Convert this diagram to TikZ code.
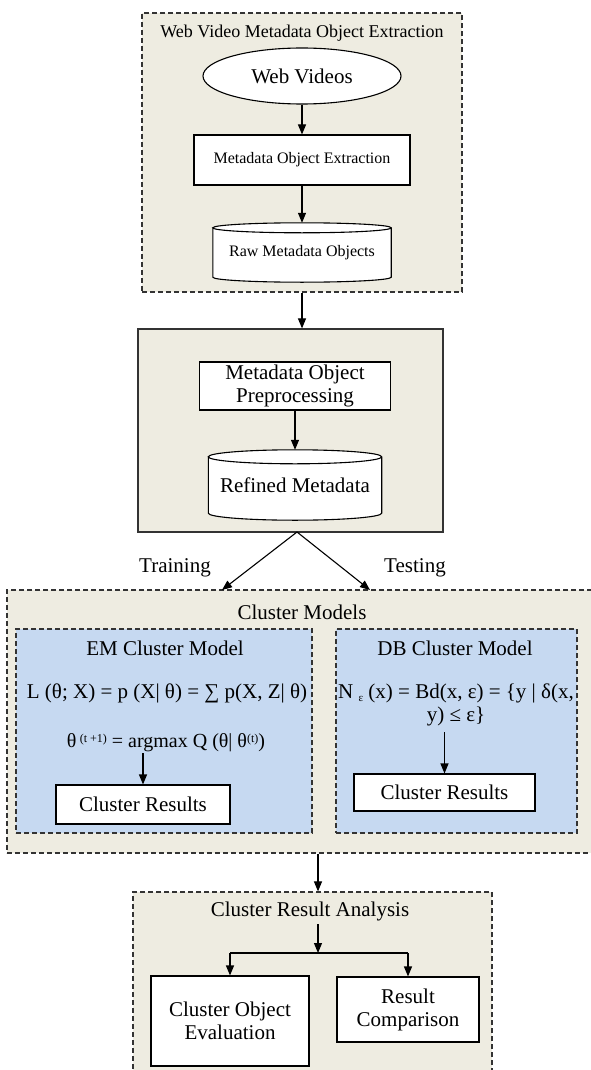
\documentclass[tikz,border=0pt]{standalone}
\usepackage{fontspec}
\setmainfont{Liberation Serif}
\usetikzlibrary{arrows.meta,shapes.geometric,calc}
\definecolor{beige}{HTML}{EEECE1}
\definecolor{lblue}{HTML}{C6D9F1}
\definecolor{edge}{HTML}{333333}
\pgfdeclarelayer{back}
\pgfdeclarelayer{mid}
\pgfsetlayers{back,mid,main}
\tikzset{
  fsa/.style={font=\fontsize{21}{23}\selectfont},
  fsb/.style={font=\fontsize{18}{20}\selectfont},
  fsc/.style={font=\fontsize{16}{18}\selectfont},
  fsd/.style={font=\fontsize{20}{22}\selectfont},
  container/.style={draw=edge, line width=1.2pt, dash pattern=on 5pt off 3pt, fill=beige, inner sep=0pt},
  solidbox/.style={draw=edge, line width=1.2pt, fill=beige, inner sep=0pt},
  whitebox/.style={draw=black, line width=1.1pt, fill=white, inner sep=0pt, align=center},
  cylnode/.style={inner sep=0pt, align=center},
  arr/.style={line width=1.1pt, -{Triangle[length=10pt,width=8pt]}},
  plain/.style={line width=1.1pt},
}
\newcommand\cylpath[2]{%
  \draw[draw=black, line width=1.1pt, fill=white] let \p1=(#1.north west), \p2=(#1.south east), \n1={(\x2-\x1)/2} in
   (\x1,\y1) -- (\x1,\y2) arc[start angle=180,end angle=360,x radius=\n1,y radius=#2]
   -- (\x2,\y1) arc[start angle=0,end angle=180,x radius=\n1,y radius=#2]
   arc[start angle=180,end angle=360,x radius=\n1,y radius=#2];}
\begin{document}
\begin{tikzpicture}[x=1pt,y=-1pt]
\useasboundingbox (0,0) rectangle (591,1070);
\clip (0,0) rectangle (591,1070);

% containers
\begin{pgfonlayer}{back}
\node[container, minimum width=320, minimum height=279] (top) at (302,152.5) {};
\node[solidbox, minimum width=305, minimum height=203] (sol) at (290.5,430.5) {};
\node[container, minimum width=593, minimum height=263] (cm) at (303.5,721.5) {};
\node[container, fill=lblue, minimum width=296, minimum height=204] (em) at (164,731) {};
\node[container, fill=lblue, minimum width=241, minimum height=204] (db) at (456.5,731) {};
\node[container, minimum width=359, minimum height=190] (bot) at (312.5,987) {};
\end{pgfonlayer}

% top group
\node[fsb] (t1) at (302,33) {Web Video Metadata Object Extraction};
\node[draw=black, ellipse, fill=white, line width=1.1pt, minimum width=198, minimum height=56, inner sep=0pt, fsa] (ww) at (302,76) {Web Videos};
\node[whitebox, fsc, minimum width=216, minimum height=50] (moe) at (302,160) {Metadata Object Extraction};
\node[cylnode, fsc, minimum width=178, minimum height=49] (rmo) at (302,252.5) {Raw Metadata Objects};
\begin{pgfonlayer}{mid}\cylpath{rmo}{5pt}\end{pgfonlayer}
\draw[arr] (ww.south) -- (moe.north);
\draw[arr] (moe.south) -- ([yshift=5pt]rmo.north);

% preprocessing group
\draw[arr] (top.south) -- (top.south |- sol.north);
\node[whitebox, fsa, minimum width=191, minimum height=48] (mop) at (295,386) {Metadata Object\\Preprocessing};
\node[cylnode, fsa, minimum width=173, minimum height=56] (rm) at (295,485) {Refined Metadata};
\begin{pgfonlayer}{mid}\cylpath{rm}{7pt}\end{pgfonlayer}
\draw[arr] (mop.south) -- ([yshift=7pt]rm.north);

% fork
\coordinate (fork) at (297,532);
\coordinate (trn) at (222,590);
\coordinate (tst) at (370,590);
\draw[arr] (fork) -- (trn);
\draw[arr] (fork) -- (tst);
\node[fsa] (trl) at (175,568) {Training};
\node[fsa] (tsl) at (415,568) {Testing};

% cluster models
\node[fsa] (cmt) at (302,612) {Cluster Models};
\node[fsa] (emt) at (165,648) {EM Cluster Model};
\node[fsa] (emf) at (167,693) {L (θ; X) = p (X| θ) = ∑ p(X, Z| θ)};
\node[fsd, inner sep=1pt] (thl) at (166,743) {θ\,\raisebox{0.55ex}{\fontsize{12}{12}\selectfont (t +1)} = argmax Q (θ| θ\raisebox{0.55ex}{\fontsize{12}{12}\selectfont (t)})};
\node[whitebox, fsa, minimum width=174, minimum height=39] (emcr) at (143,804.5) {Cluster Results};
\draw[arr] (emcr.north |- thl.south) -- (emcr.north);

\node[fsa] (dbt) at (455,648) {DB Cluster Model};
\node[fsa, align=center, inner sep=0pt] (dbf) at (456,705) {N \raisebox{-0.3ex}{\fontsize{11}{11}\selectfont ε} (x) = Bd(x, ε) = \{y | δ(x,\\ y) ≤ ε\}};
\node[whitebox, fsa, minimum width=181, minimum height=37] (dbcr) at (444.5,792.5) {Cluster Results};
\draw[arr] ([yshift=-6pt]dbcr.north |- dbf.south) -- (dbcr.north);

% analysis
\coordinate (jn) at (318,953);
\draw[arr] (cm.south -| jn) -- (jn |- bot.north);
\node[fsa] (cra) at (310,911) {Cluster Result Analysis};
\node[whitebox, fsa, minimum width=158, minimum height=90] (coe) at (230,1021) {Cluster Object\\Evaluation};
\node[whitebox, fsa, minimum width=142, minimum height=65] (rc) at (408,1009.5) {Result\\Comparison};
\draw[arr] (jn |- cra.south) -- (jn);
\draw[plain] (coe.north |- jn) -- (rc.north |- jn);
\draw[arr] (coe.north |- jn) -- (coe.north);
\draw[arr] (rc.north |- jn) -- (rc.north);
\end{tikzpicture}
\end{document}
